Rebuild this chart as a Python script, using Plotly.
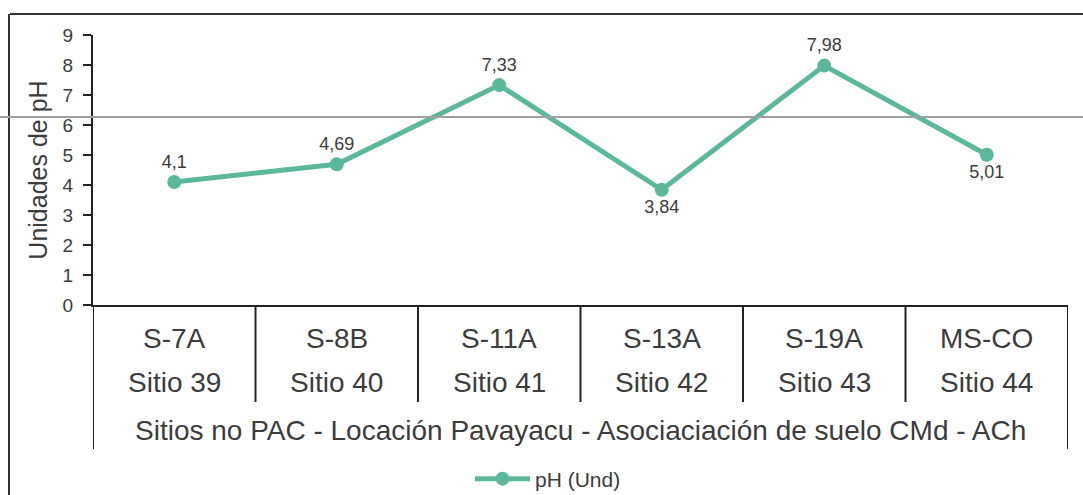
import plotly.graph_objects as go

# ---- data ----
codes = ["S-7A", "S-8B", "S-11A", "S-13A", "S-19A", "MS-CO"]
sitios = ["Sitio 39", "Sitio 40", "Sitio 41", "Sitio 42", "Sitio 43", "Sitio 44"]
ph_values = [4.1, 4.69, 7.33, 3.84, 7.98, 5.01]
group_label = "Sitios no PAC - Locación Pavayacu - Asociaciación de suelo CMd - ACh"
y_ticks = [0, 1, 2, 3, 4, 5, 6, 7, 8, 9]
series_name = "pH (Und)"
y_title = "Unidades de pH"

# ---- geometry (pixels) ----
W, H = 1083, 495
L, R, T, B = 93, 15, 35, 190
PW, PH = W - L - R, H - T - B


def px_x(x):
    return (x - L) / PW


def px_y(y):
    return (H - B - y) / PH


text_col = "#3c3c3c"
line_col = "#5cb89b"
font = "Liberation Sans, Arial, sans-serif"

xs = list(range(len(codes)))
labels = [str(v).replace(".", ",") for v in ph_values]
positions = ["top center", "top center", "top center", "bottom center", "top center", "bottom center"]

fig = go.Figure()
fig.add_trace(go.Scatter(
    x=xs, y=ph_values, mode="lines+markers+text", name=series_name,
    line=dict(color=line_col, width=5),
    marker=dict(color=line_col, size=14),
    text=labels, textposition=positions,
    textfont=dict(size=18, color=text_col, family=font),
    cliponaxis=False,
))

shapes = []
n = len(codes)
for i in range(1, n):
    xv = i - 0.5
    shapes.append(dict(type="line", xref="x", yref="paper", x0=xv, x1=xv,
                       y0=0, y1=px_y(402), line=dict(color="#222", width=2)))
for xv in (-0.5, n - 0.5):
    shapes.append(dict(type="line", xref="x", yref="paper", x0=xv, x1=xv,
                       y0=0, y1=px_y(449), line=dict(color="#222", width=2)))
# outer frame (top + left)
shapes.append(dict(type="line", xref="paper", yref="paper", x0=px_x(10), x1=px_x(1083),
                   y0=px_y(14), y1=px_y(14), line=dict(color="#333", width=2)))
shapes.append(dict(type="line", xref="paper", yref="paper", x0=px_x(9), x1=px_x(9),
                   y0=px_y(14), y1=px_y(495), line=dict(color="#333", width=2)))
# scan artifact line
shapes.append(dict(type="line", xref="paper", yref="paper", x0=px_x(0), x1=px_x(1083),
                   y0=px_y(117), y1=px_y(117), line=dict(color="#a0a0a0", width=2)))

annotations = []
lab_font = dict(size=28, color=text_col, family=font)
for i in xs:
    annotations.append(dict(x=i, y=px_y(338), xref="x", yref="paper", text=codes[i],
                            showarrow=False, yanchor="middle", font=lab_font))
    annotations.append(dict(x=i, y=px_y(383), xref="x", yref="paper", text=sitios[i],
                            showarrow=False, yanchor="middle", font=lab_font))
annotations.append(dict(x=(n - 1) / 2, y=px_y(430), xref="x", yref="paper", text=group_label,
                        showarrow=False, yanchor="middle", font=lab_font))

fig.update_layout(
    width=W, height=H,
    margin=dict(l=L, r=R, t=T, b=B, autoexpand=False),
    paper_bgcolor="white", plot_bgcolor="white",
    showlegend=True,
    legend=dict(orientation="h", x=px_x(548), xanchor="center", y=px_y(479), yanchor="middle",
                itemwidth=55,
                font=dict(size=21, color=text_col, family=font), bgcolor="rgba(0,0,0,0)"),
    xaxis=dict(range=[-0.5, n - 0.5], showticklabels=False, ticks="", showgrid=False,
               zeroline=False, showline=True, linecolor="#222", linewidth=2),
    yaxis=dict(range=[0, 9], tickvals=y_ticks, ticks="outside", ticklen=8, tickcolor="#222",
               tickwidth=1.5, ticklabelstandoff=6,
               showgrid=False, zeroline=False, showline=True, linecolor="#222", linewidth=2,
               tickfont=dict(size=19, color=text_col, family=font),
               title=dict(text=y_title, font=dict(size=25, color=text_col, family=font), standoff=8)),
    shapes=shapes, annotations=annotations,
    font=dict(family=font),
)

fig.write_html("out.html", config={"displayModeBar": False},
               post_script="document.body.style.margin='0';document.body.style.overflow='hidden';")
